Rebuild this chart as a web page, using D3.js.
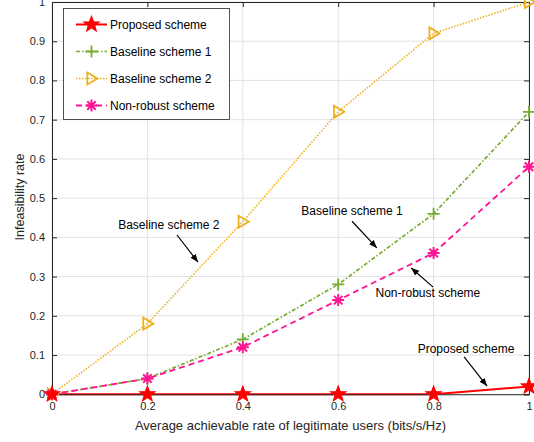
<!DOCTYPE html>
<html><head><meta charset="utf-8">
<script src="https://cdn.jsdelivr.net/npm/d3@7"></script>
<style>body{margin:0;background:#fff}svg{display:block}text{font-family:"Liberation Sans",Arial,sans-serif}</style>
</head><body><svg id="c" width="534" height="442"></svg>
<script>
const xValues = [0, 0.2, 0.4, 0.6, 0.8, 1];
const proposed = [0, 0, 0, 0, 0, 0.02];
const baseline1 = [0, 0.04, 0.14, 0.28, 0.46, 0.72];
const baseline2 = [0, 0.18, 0.44, 0.72, 0.92, 1.0];
const nonRobust = [0, 0.04, 0.12, 0.24, 0.36, 0.58];
const seriesNames = ["Proposed scheme", "Baseline scheme 1", "Baseline scheme 2", "Non-robust scheme"];
const xTicks = [0, 0.2, 0.4, 0.6, 0.8, 1];
const yTicks = [0, 0.1, 0.2, 0.3, 0.4, 0.5, 0.6, 0.7, 0.8, 0.9, 1];
const xLabel = "Average achievable rate of legitimate users (bits/s/Hz)";
const yLabel = "Infeasibility rate";
const annotations = [
  {text: "Baseline scheme 2", tx: 0.245, ty: 0.421, ax0: 0.262, ay0: 0.406, ax1: 0.306, ay1: 0.337},
  {text: "Baseline scheme 1", tx: 0.629, ty: 0.457, ax0: 0.629, ay0: 0.441, ax1: 0.681, ay1: 0.373},
  {text: "Non-robust scheme", tx: 0.788, ty: 0.248, ax0: 0.799, ay0: 0.273, ax1: 0.753, ay1: 0.322},
  {text: "Proposed scheme", tx: 0.868, ty: 0.105, ax0: 0.864, ay0: 0.095, ax1: 0.912, ay1: 0.021}
];

const svg = d3.select("#c");
const L = 52, R = 529, T = 2, B = 394.25;
const x = d3.scaleLinear().domain([0, 1]).range([L, R]);
const y = d3.scaleLinear().domain([0, 1]).range([B, T]);
const axisColor = "#262626";

// grid
svg.append("g").selectAll("line").data(xTicks).join("line")
  .attr("x1", d => x(d)).attr("x2", d => x(d)).attr("y1", T).attr("y2", B)
  .attr("stroke", "#e3e3e3").attr("stroke-width", 1);
svg.append("g").selectAll("line").data(yTicks).join("line")
  .attr("x1", L).attr("x2", R).attr("y1", d => y(d)).attr("y2", d => y(d))
  .attr("stroke", "#e3e3e3").attr("stroke-width", 1);

// axes
const xAxis = d3.axisBottom(x).tickValues(xTicks).tickSize(-5).tickPadding(8).tickFormat(d3.format("~g"));
const yAxis = d3.axisLeft(y).tickValues(yTicks).tickSize(-5).tickPadding(7).tickFormat(d3.format("~g"));
const gxt = svg.append("g").attr("transform", `translate(0,${T})`).call(d3.axisTop(x).tickValues(xTicks).tickSize(-5).tickFormat(""));
const gyr = svg.append("g").attr("transform", `translate(${R},0)`).call(d3.axisRight(y).tickValues(yTicks).tickSize(-5).tickFormat(""));

const plotG = svg.append("g");

const gx = svg.append("g").attr("transform", `translate(0,${B})`).call(xAxis);
const gy = svg.append("g").attr("transform", `translate(${L},0)`).call(yAxis);
[gx, gy, gxt, gyr].forEach(g => {
  g.select(".domain").attr("stroke", axisColor).attr("stroke-width", 1);
  g.selectAll(".tick line").attr("stroke", axisColor);
  g.selectAll(".tick text").attr("fill", axisColor).attr("font-size", 11).attr("font-family", "Liberation Sans, Arial, sans-serif");
});

svg.append("text").attr("x", (L + R) / 2).attr("y", 430).attr("text-anchor", "middle")
  .attr("font-size", 13).attr("fill", axisColor).text(xLabel);
svg.append("text").attr("transform", `translate(24,197) rotate(-90)`).attr("text-anchor", "middle")
  .attr("font-size", 12.5).attr("fill", axisColor).text(yLabel);

// marker drawers
function star(g, cx, cy, color, r) {
  const pts = [];
  for (let i = 0; i < 10; i++) {
    const a = -Math.PI / 2 + i * Math.PI / 5;
    const rr = i % 2 === 0 ? r : r * 0.42;
    pts.push([cx + rr * Math.cos(a), cy + rr * Math.sin(a)]);
  }
  g.append("polygon").attr("points", pts.map(p => p.join(",")).join(" "))
    .attr("fill", color).attr("stroke", color).attr("stroke-width", 1.2).attr("stroke-linejoin", "miter");
}
function plus(g, cx, cy, color, r) {
  g.append("path").attr("d", `M${cx - r},${cy}H${cx + r}M${cx},${cy - r}V${cy + r}`)
    .attr("stroke", color).attr("stroke-width", 1.8);
}
function triRight(g, cx, cy, color, r) {
  g.append("path").attr("d", `M${cx - r * 0.7},${cy - r}L${cx + r},${cy}L${cx - r * 0.7},${cy + r}Z`)
    .attr("fill", "none").attr("stroke", color).attr("stroke-width", 1.8);
}
function asterisk(g, cx, cy, color, r) {
  let d = "";
  for (let i = 0; i < 4; i++) {
    const a = i * Math.PI / 4;
    d += `M${cx - r * Math.cos(a)},${cy - r * Math.sin(a)}L${cx + r * Math.cos(a)},${cy + r * Math.sin(a)}`;
  }
  g.append("path").attr("d", d).attr("stroke", color).attr("stroke-width", 2);
}

const series = [
  {name: seriesNames[0], vals: proposed, color: "#ff0000", dash: null, width: 2, marker: star, r: 8},
  {name: seriesNames[1], vals: baseline1, color: "#77ac30", dash: "4,2,1.5,2", width: 1.7, marker: plus, r: 6},
  {name: seriesNames[2], vals: baseline2, color: "#edb120", dash: "1.5,1.5", width: 1.6, marker: triRight, r: 6},
  {name: seriesNames[3], vals: nonRobust, color: "#ff1493", dash: "6,4", width: 1.8, marker: asterisk, r: 6}
];

const line = d3.line().x(d => x(d[0])).y(d => y(d[1])).curve(d3.curveLinear);
series.forEach(s => {
  const pts = xValues.map((v, i) => [v, s.vals[i]]);
  plotG.append("path").attr("d", line(pts)).attr("fill", "none").attr("stroke", s.color)
    .attr("stroke-width", s.width).attr("stroke-dasharray", s.dash);
});
const markG = svg.append("g");
[2, 1, 3, 0].forEach(k => {
  const s = series[k];
  const mg = markG.append("g");
  xValues.forEach((v, i) => s.marker(mg, x(v), y(s.vals[i]), s.color, s.r));
});

// legend
const lg = svg.append("g");
lg.append("rect").attr("x", 63.5).attr("y", 8.5).attr("width", 166).attr("height", 111)
  .attr("fill", "#fff").attr("stroke", axisColor).attr("stroke-width", 0.8);
series.forEach((s, i) => {
  const yy = 24.5 + i * 27;
  lg.append("line").attr("x1", 76).attr("x2", 107).attr("y1", yy).attr("y2", yy)
    .attr("stroke", s.color).attr("stroke-width", s.width).attr("stroke-dasharray", s.dash);
  s.marker(lg, 91.5, yy, s.color, s.r);
  lg.append("text").attr("x", 110).attr("y", yy + 4).attr("font-size", 12).attr("fill", "#000").text(s.name);
});

// annotations
svg.append("defs").append("marker").attr("id", "ah").attr("viewBox", "0 0 10 10")
  .attr("refX", 10).attr("refY", 5).attr("markerWidth", 8).attr("markerHeight", 8)
  .attr("markerUnits", "userSpaceOnUse").attr("orient", "auto")
  .append("path").attr("d", "M0,1L10,5L0,9Z").attr("fill", "#000");
const ag = svg.append("g");
annotations.forEach(a => {
  ag.append("text").attr("x", x(a.tx)).attr("y", y(a.ty)).attr("text-anchor", "middle")
    .attr("font-size", 12).attr("fill", "#000").text(a.text);
  ag.append("line").attr("x1", x(a.ax0)).attr("y1", y(a.ay0)).attr("x2", x(a.ax1)).attr("y2", y(a.ay1))
    .attr("stroke", "#000").attr("stroke-width", 1.2).attr("marker-end", "url(#ah)");
});
</script></body></html>
